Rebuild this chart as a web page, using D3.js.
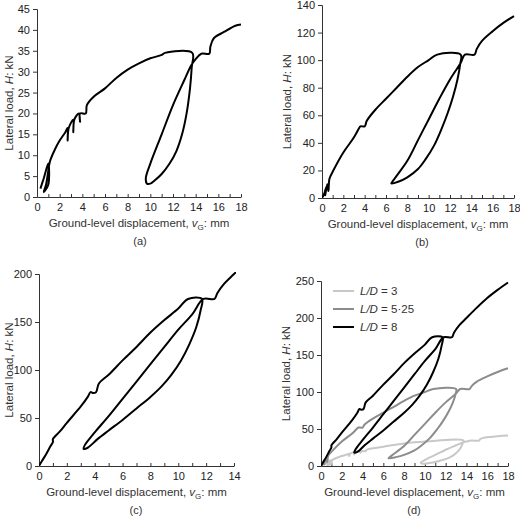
<!DOCTYPE html>
<html><head><meta charset="utf-8">
<script src="https://d3js.org/d3.v7.min.js"></script>
<style>body{margin:0;background:#fff}text{font-family:"Liberation Sans",Arial,sans-serif}</style>
</head><body><svg id="c" width="520" height="518"></svg>
<script>
const L3 = [[0.3,2],[0.6,4.5],[1.0,8],[1.0,3],[0.7,1.5],[0.6,1.2],[0.8,3],[1.1,8],[1.2,9],[1.6,11.5],[2,13.5],[2.5,15.5],[2.7,16.5],[2.7,13.5],[2.8,16.5],[3.2,18.5],[3.2,15.5],[3.3,18.6],[3.7,20],[3.8,18],[3.8,20],[4.3,20],[4.4,22],[5,24],[6,26],[7,28.5],[8,30.5],[9,32],[10,33.2],[11,34],[11.3,34.5],[13.7,34.5],[13.65,31],[13.5,26],[13.2,20],[12.8,15],[12.3,11],[11.7,8],[11,5.5],[10.4,4],[10,3.2],[9.7,3.2],[9.6,4.5],[10,8],[11,15],[12,22],[13,28],[13.6,31.5],[14,33],[14.5,34.3],[15.2,34.3],[15.3,36],[15.6,38],[16.5,39.5],[17.5,41],[18,41.3]];
const L525 = [[0,0],[0.2,3],[0.4,8],[0.3,2],[0.5,10],[0.6,5],[0.7,14],[1,19],[2,33],[3,44],[3.5,51],[3.6,52],[4,52],[4.2,56],[5,64],[6,72],[7,80],[8,88],[9,95],[10,100],[10.8,104],[13,104],[12.95,97],[12.7,86],[12.3,74],[11.8,62],[11.2,50],[10.5,38],[9.7,28],[9,21],[8,15],[7.2,12],[6.5,10.5],[6.8,14],[8,27],[9,42],[10,57],[11,72],[12,86],[13,98],[13.4,104],[14.3,104],[14.5,108],[15,114],[16,121],[17,127],[18,132]];
const L8 = [[0,0],[0.2,5],[0.5,12],[0.8,20],[1,25],[1,28],[1.5,36],[2,45],[3,62],[3.5,72],[3.7,77],[3.9,76],[4.1,77],[4.3,86],[5,95],[6,110],[7,124],[8,139],[9,152],[10,164],[10.7,174],[11.7,174],[11.6,162],[11.3,145],[10.8,127],[10.2,110],[9.5,95],[8.8,83],[8,72],[7,60],[6,48],[5,37],[4.2,28],[3.5,19],[3.2,18],[3.3,22],[4,35],[5,52],[6,70],[7,88],[8,106],[9,124],[10,142],[11,158],[11.8,174],[12.6,174],[12.8,180],[13.3,190],[14,200],[15,214],[16,227],[17,238],[18,248]];
const xTicks18 = [0,2,4,6,8,10,12,14,16,18];
const xTicks14 = [0,2,4,6,8,10,12,14];
const yTicksA = [0,5,10,15,20,25,30,35,40,45];
const yTicksB = [0,20,40,60,80,100,120,140];
const yTicksC = [0,50,100,150,200];
const yTicksD = [0,50,100,150,200,250];
const legend = [["L/D"," = 3","#c8c8c8"],["L/D"," = 5·25","#8c8c8c"],["L/D"," = 8","#000"]];

const svg = d3.select("#c");
let cid=0;
function panel(o){
  const x=d3.scaleLinear().domain([0,o.xmax]).range([o.l,o.r]);
  const y=d3.scaleLinear().domain([0,o.ymax]).range([o.b,o.t]);
  const g=svg.append("g");
  const ax=g.append("g").attr("transform",`translate(0,${o.b})`).call(d3.axisBottom(x).tickValues(o.xt).tickSize(0).tickPadding(6));
  g.append("g").attr("transform",`translate(0,${o.b})`).call(d3.axisBottom(x).ticks(o.xmax).tickSize(-3).tickFormat("")).select(".domain").remove();
  const ay=g.append("g").attr("transform",`translate(${o.l},0)`).call(d3.axisLeft(y).tickValues(o.yt).tickSize(4).tickPadding(3));
  [ax,ay].forEach(a=>{a.selectAll("text").attr("font-size",11).attr("fill","#222");a.selectAll("line,path").attr("stroke","#333");});
  g.selectAll(".tick line").attr("stroke","#333");
  const id="cl"+(cid++);
  svg.append("clipPath").attr("id",id).append("rect").attr("x",o.l).attr("y",o.t-2).attr("width",o.r-o.l+2).attr("height",o.b-o.t+2);
  const line=d3.line().x(d=>x(d[0])).y(d=>y(d[1])).curve(d3.curveCatmullRom.alpha(0.5));
  o.series.forEach(s=>g.append("path").attr("d",line(s.d)).attr("fill","none").attr("stroke",s.c).attr("stroke-width",2).attr("stroke-linejoin","round").attr("clip-path",`url(#${id})`));
  const xl=g.append("text").attr("x",(o.l+o.r)/2).attr("y",o.b+30).attr("text-anchor","middle").attr("font-size",11.5).attr("fill","#333");
  xl.append("tspan").text("Ground-level displacement, ");
  xl.append("tspan").attr("font-style","italic").text("v");
  xl.append("tspan").attr("font-size",8).attr("dy",3).text("G");
  xl.append("tspan").attr("dy",-3).text(": mm");
  const yl=g.append("text").attr("transform",`translate(${o.yl},${(o.t+o.b)/2}) rotate(-90)`).attr("text-anchor","middle").attr("font-size",11.5).attr("fill","#333");
  yl.append("tspan").text("Lateral load, ");
  yl.append("tspan").attr("font-style","italic").text("H");
  yl.append("tspan").text(": kN");
  g.append("text").attr("x",o.cap).attr("y",o.b+48).attr("text-anchor","middle").attr("font-size",11).attr("fill","#333").text(o.label);
  return {x,y,g};
}
panel({l:37,r:241,t:9,b:197,xmax:18,ymax:45,xt:xTicks18,yt:yTicksA,yl:13,cap:140,label:"(a)",series:[{d:L3,c:"#000"}]});
panel({l:322,r:514,t:5,b:198,xmax:18,ymax:140,xt:xTicks18,yt:yTicksB,yl:291,cap:422,label:"(b)",series:[{d:L525,c:"#000"}]});
panel({l:39,r:234,t:274,b:466,xmax:14,ymax:200,xt:xTicks14,yt:yTicksC,yl:13,cap:136,label:"(c)",series:[{d:L8,c:"#000"}]});
const pd=panel({l:321,r:508,t:281,b:466,xmax:18,ymax:250,xt:xTicks18,yt:yTicksD,yl:290,cap:414,label:"(d)",series:[{d:L3,c:"#c8c8c8"},{d:L525,c:"#8c8c8c"},{d:L8,c:"#000"}]});
legend.forEach((e,i)=>{
  const yy=291+i*18;
  pd.g.append("line").attr("x1",333).attr("x2",354).attr("y1",yy).attr("y2",yy).attr("stroke",e[2]).attr("stroke-width",2);
  const t=pd.g.append("text").attr("x",360).attr("y",yy+4).attr("font-size",11.5).attr("fill","#333");
  t.append("tspan").attr("font-style","italic").text(e[0]);
  t.append("tspan").text(e[1]);
});
</script></body></html>
